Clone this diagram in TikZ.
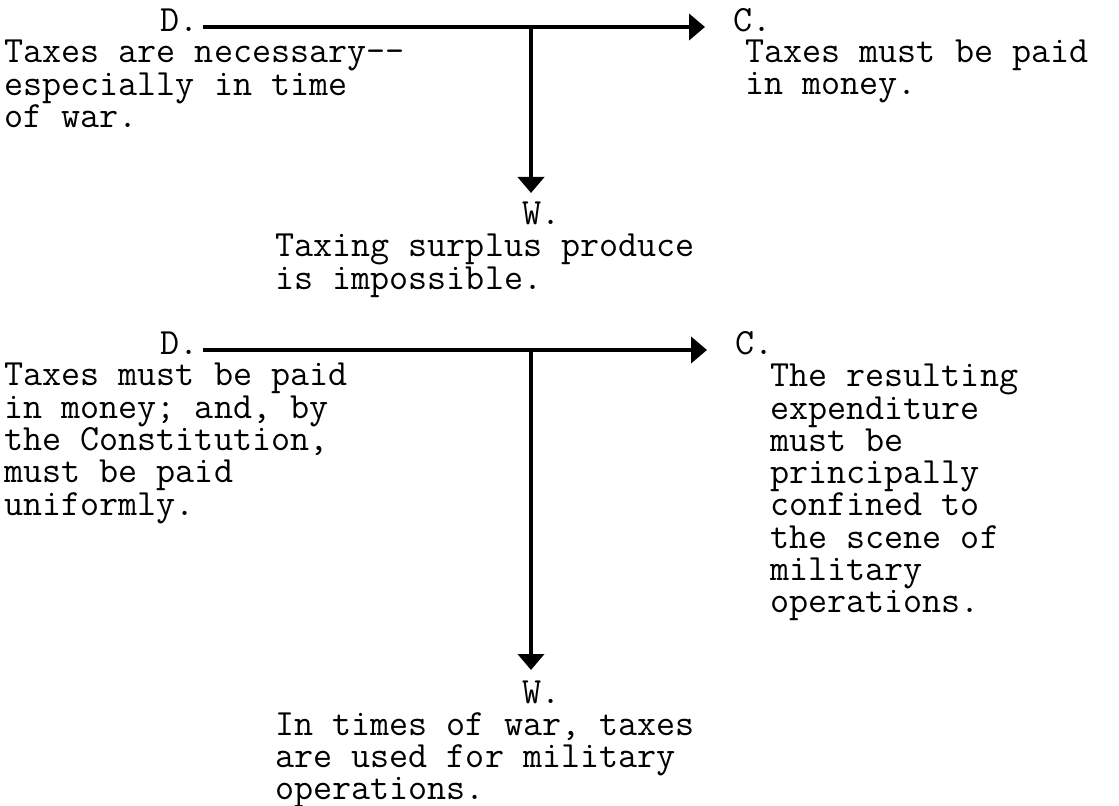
\documentclass[tikz,border=0pt]{standalone}
\usepackage{fontspec}
\usetikzlibrary{arrows.meta,calc}
\newcommand{\tw}{\ttfamily\fontsize{18.5pt}{15.9pt}\selectfont}
\newcommand{\block}[1]{\begin{tabular}[t]{@{}l@{}}#1\end{tabular}}
\begin{document}
\begin{tikzpicture}[x=0.5pt,y=-0.5pt,
  txt/.style={inner sep=0pt,anchor=base west,font=\tw},
  arr/.style={line width=2pt,-{Triangle[width=13pt,length=8pt]}}]
\useasboundingbox (0,0) rectangle (1119,806);
% ---- first argument ----
\node[txt] (D1) at (160,32) {D.};
\node[txt] (C1) at (733,32) {C.};
\node[txt] (W1) at (522,225) {W.};
\node[txt] (L1) at (4,63) {\block{Taxes are necessary-\kern0pt-\kern0pt\\especially in time\\of war.}};
\node[txt] (R1) at (745,63) {\block{Taxes must be paid\\in money.}};
\node[txt] (B1) at (275,257) {\block{Taxing surplus produce\\is impossible.}};
\coordinate (j1) at (531,27);
\coordinate (t1) at (531,193);
\draw[arr] ([shift={(2pt,2.5pt)}]D1.base east) -- ([shift={(-14pt,2.5pt)}]C1.base west);
\draw[arr] (j1) -- (t1);
% ---- second argument ----
\node[txt] (D2) at (160,355) {D.};
\node[txt] (C2) at (735,355) {C.};
\node[txt] (W2) at (522,703) {W.};
\node[txt] (L2) at (4,386) {\block{Taxes must be paid\\in money; and, by\\the Constitution,\\must be paid\\uniformly.}};
\node[txt] (R2) at (770,387) {\block{The resulting\\expenditure\\must be\\principally\\confined to\\the scene of\\military\\operations.}};
\node[txt] (B2) at (275,735) {\block{In times of war, taxes\\are used for military\\operations.}};
\coordinate (j2) at (531,350);
\coordinate (t2) at (531,670);
\draw[arr] ([shift={(2pt,2.5pt)}]D2.base east) -- ([shift={(-14pt,2.5pt)}]C2.base west);
\draw[arr] (j2) -- (t2);
\end{tikzpicture}
\end{document}
